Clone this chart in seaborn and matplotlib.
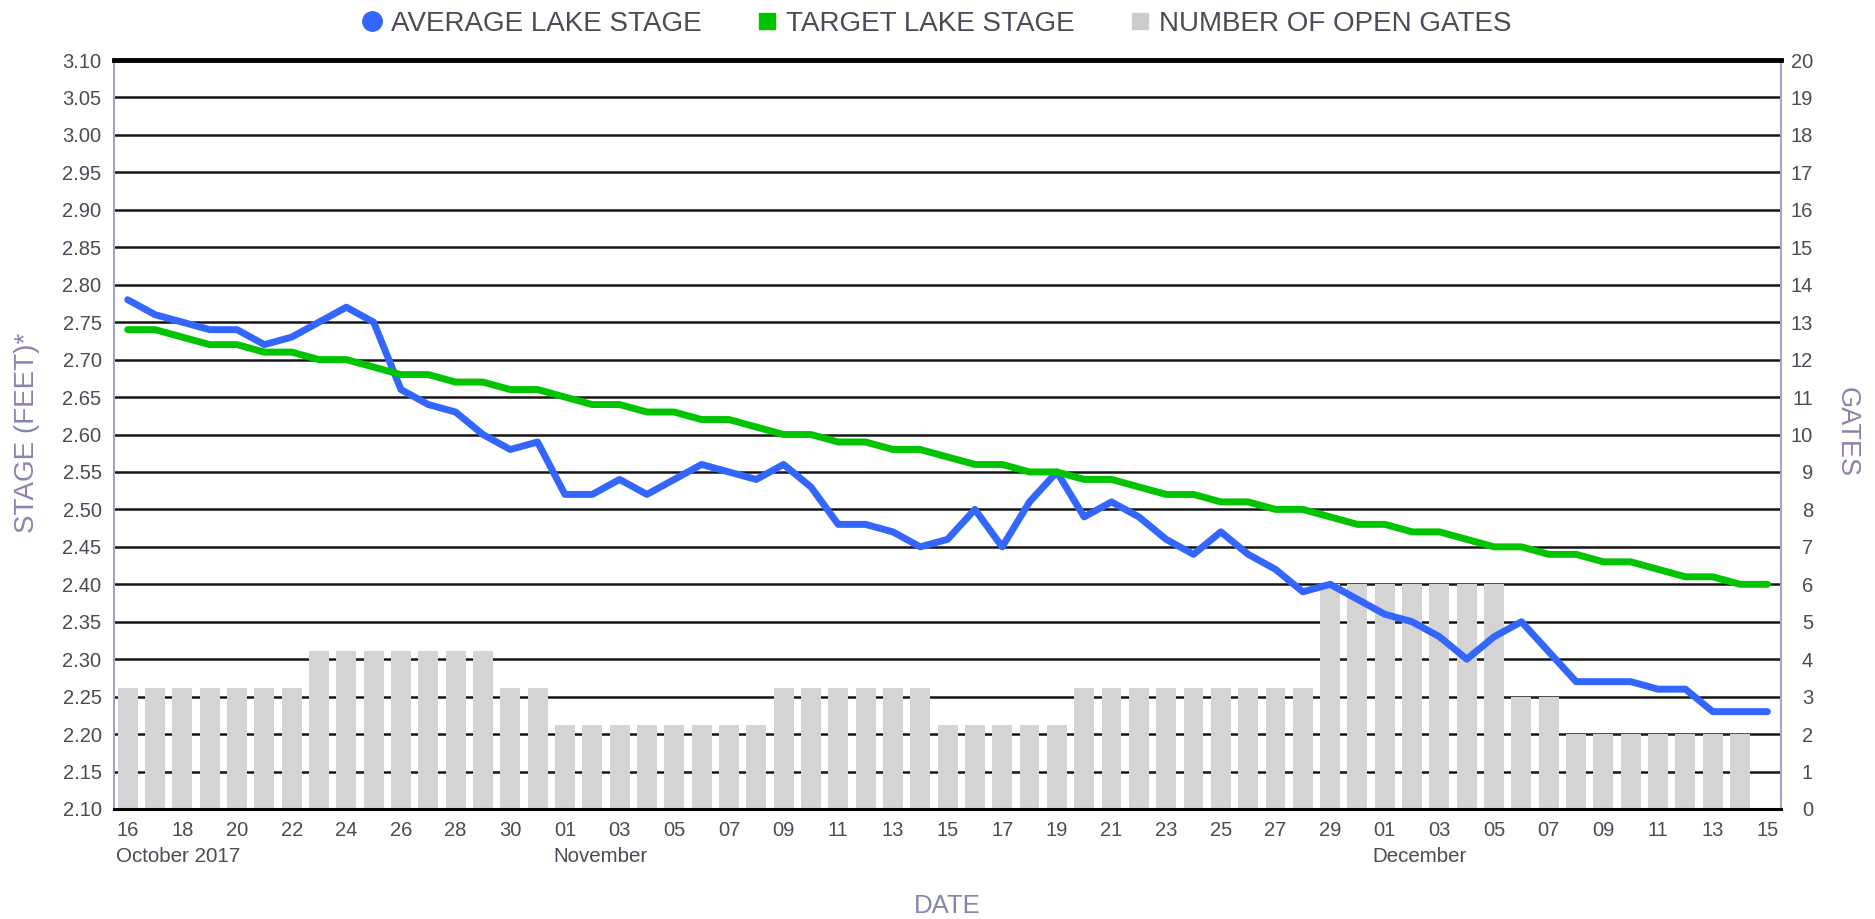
import numpy as np
import pandas as pd
import matplotlib
matplotlib.use("Agg")
import matplotlib.pyplot as plt
import matplotlib.transforms as mtransforms
from matplotlib.lines import Line2D
import seaborn as sns

# Daily record, 16 Oct 2017 - 15 Dec 2017
dates = pd.date_range("2017-10-16", "2017-12-15", freq="D")

average_stage = [
    2.78, 2.76, 2.75, 2.74, 2.74, 2.72, 2.73, 2.75, 2.77, 2.75, 2.66, 2.64, 2.63, 2.60, 2.58, 2.59,
    2.52, 2.52, 2.54, 2.52, 2.54, 2.56, 2.55, 2.54, 2.56, 2.53, 2.48, 2.48, 2.47, 2.45, 2.46, 2.50,
    2.45, 2.51, 2.55, 2.49, 2.51, 2.49, 2.46, 2.44, 2.47, 2.44, 2.42, 2.39, 2.40, 2.38,
    2.36, 2.35, 2.33, 2.30, 2.33, 2.35, 2.31, 2.27, 2.27, 2.27, 2.26, 2.26, 2.23, 2.23, 2.23,
]
target_stage = [
    2.74, 2.74, 2.73, 2.72, 2.72, 2.71, 2.71, 2.70, 2.70, 2.69, 2.68, 2.68, 2.67, 2.67, 2.66, 2.66,
    2.65, 2.64, 2.64, 2.63, 2.63, 2.62, 2.62, 2.61, 2.60, 2.60, 2.59, 2.59, 2.58, 2.58, 2.57, 2.56,
    2.56, 2.55, 2.55, 2.54, 2.54, 2.53, 2.52, 2.52, 2.51, 2.51, 2.50, 2.50, 2.49, 2.48,
    2.48, 2.47, 2.47, 2.46, 2.45, 2.45, 2.44, 2.44, 2.43, 2.43, 2.42, 2.41, 2.41, 2.40, 2.40,
]
open_gates = (
    [3.23] * 7 + [4.23] * 7 + [3.23] * 2 + [2.23] * 8 + [3.23] * 6 + [2.23] * 5 + [3.23] * 9
    + [6] * 7 + [3] * 2 + [2] * 7 + [0]
)

stage_ticks = np.round(np.arange(2.10, 3.101, 0.05), 2)
gate_ticks = list(range(0, 21))
month_labels = {"2017-10-16": "October 2017", "2017-11-01": "November", "2017-12-01": "December"}

BLUE = "#3366ff"
GREEN = "#00c400"
BAR = "#d4d4d4"
TICK_COLOR = "#4a4a5a"
LABEL_COLOR = "#8686ad"
AXIS_COLOR = "#a3a3c8"

sns.set_theme(style="white")
plt.rcParams["font.family"] = ["Liberation Sans", "DejaVu Sans"]

df = pd.DataFrame({
    "day": np.arange(len(dates)),
    "average": average_stage,
    "target": target_stage,
    "gates": open_gates,
})

fig = plt.figure(figsize=(18.75, 9.19), dpi=100)
ax_g = fig.add_axes([0.0608, 0.1197, 0.8891, 0.815])

# gates as bars (right axis), drawn above the grid
sns.barplot(data=df, x="day", y="gates", ax=ax_g, color=BAR, width=0.73,
            saturation=1, linewidth=0)
ax_g.set_ylim(0, 20)
ax_g.set_yticks(gate_ticks)
ax_g.yaxis.grid(True, color="#151515", linewidth=1.8)
ax_g.set_axisbelow(True)

# lake stages as lines (left axis)
ax_s = ax_g.twinx()
sns.lineplot(data=df, x="day", y="average", ax=ax_s, color=BLUE, linewidth=5,
             solid_capstyle="round", solid_joinstyle="round")
sns.lineplot(data=df, x="day", y="target", ax=ax_s, color=GREEN, linewidth=5,
             solid_capstyle="round", solid_joinstyle="round")
ax_s.set_ylim(2.10, 3.10)
ax_s.set_yticks(stage_ticks)
ax_s.set_yticklabels([f"{v:.2f}" for v in stage_ticks])
ax_s.yaxis.tick_left()
ax_s.tick_params(axis="y", length=0, pad=9, labelsize=14.5, labelcolor=TICK_COLOR)
ax_s.set_ylabel("")
ax_s.set_xlabel("")
for sp in ax_s.spines.values():
    sp.set_visible(False)

# gate ticks go on the right, numbers flush right
ax_g.yaxis.tick_right()
ax_g.tick_params(axis="y", length=0, pad=23, labelsize=14.5, labelcolor=TICK_COLOR)
for tick in ax_g.yaxis.get_major_ticks():
    tick.label2.set_horizontalalignment("right")

# x axis: every second day, month names underneath
ax_g.set_xlim(-0.5, len(dates) - 0.5)
ax_g.set_xticks(df["day"][::2])
ax_g.set_xticklabels(dates[::2].strftime("%d"))
ax_g.tick_params(axis="x", length=0, pad=9, labelsize=14.5, labelcolor=TICK_COLOR)
ax_g.set_xlabel("")
ax_g.set_ylabel("")

shift = mtransforms.ScaledTranslation(-12 / 100, 0, fig.dpi_scale_trans)
trans = mtransforms.blended_transform_factory(ax_g.transData, fig.transFigure) + shift
for d, name in month_labels.items():
    idx = int((pd.Timestamp(d) - dates[0]).days)
    ax_g.text(idx, 1 - 857 / 919, name, transform=trans, ha="left", va="center",
              fontsize=14.8, color=TICK_COLOR)

# frame
ax_g.spines["top"].set_color("black")
ax_g.spines["top"].set_linewidth(3.5)
ax_g.spines["bottom"].set_color("black")
ax_g.spines["bottom"].set_linewidth(2.2)
for side in ("left", "right"):
    ax_g.spines[side].set_color(AXIS_COLOR)
    ax_g.spines[side].set_linewidth(1.5)

# axis titles
fig.text(27 / 1875, 1 - 433 / 919, "STAGE (FEET)*", rotation=90, ha="center", va="center",
         fontsize=20, color=LABEL_COLOR)
fig.text(1847 / 1875, 1 - 432 / 919, "GATES", rotation=270, ha="center", va="center",
         fontsize=19.5, color=LABEL_COLOR)
fig.text(947 / 1875, 1 - 906 / 919, "DATE", ha="center", va="center",
         fontsize=18.5, color=LABEL_COLOR)

handles = [
    Line2D([], [], ls="none", marker="o", ms=14, mfc=BLUE, mec=BLUE),
    Line2D([], [], ls="none", marker="s", ms=11, mfc=GREEN, mec=GREEN),
    Line2D([], [], ls="none", marker="s", ms=11, mfc="#cccccc", mec="#cccccc"),
]
leg = fig.legend(handles, ["AVERAGE LAKE STAGE", "TARGET LAKE STAGE", "NUMBER OF OPEN GATES"],
                 loc="center", bbox_to_anchor=(0.4995, 1 - 24 / 919), ncol=3, frameon=False,
                 fontsize=20, handlelength=0.75, handletextpad=0.3, columnspacing=2.0,
                 borderaxespad=0)
for t in leg.get_texts():
    t.set_color(TICK_COLOR)

fig.savefig("out.png", dpi=100)
